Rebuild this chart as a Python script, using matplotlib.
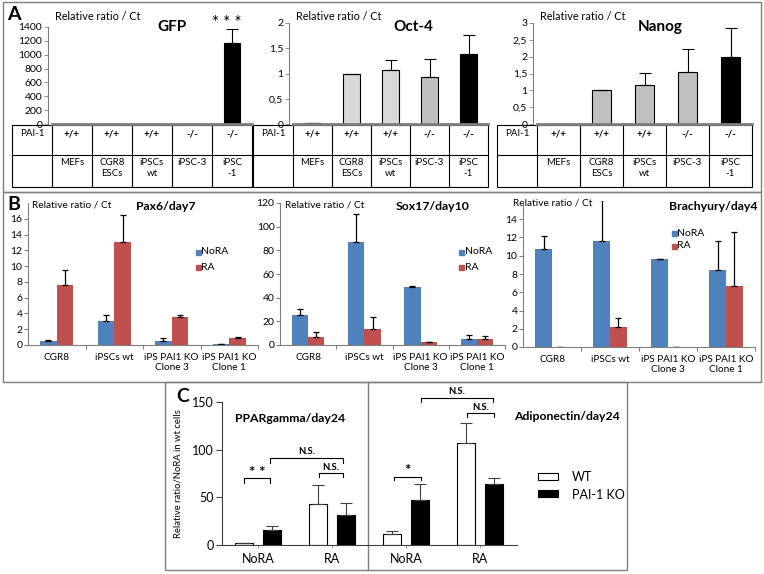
import matplotlib.pyplot as plt
from matplotlib.lines import Line2D
from matplotlib.patches import Rectangle

plt.rcParams['font.family'] = ['Lato', 'DejaVu Sans']

# ---- data ----
# panel A
a_cells = ['MEFs', 'CGR8\nESCs', 'iPSCs\nwt', 'iPSC-3', 'iPSC\n-1']
a_pai = ['+/+', '+/+', '+/+', '-/-', '-/-']
gfp_val = [5, 5, 5, 5, 1170]
gfp_err = [0, 0, 0, 0, 200]
oct4_val = [0.02, 1.0, 1.07, 0.94, 1.38]
oct4_err = [0, 0, 0.19, 0.35, 0.38]
nanog_val = [0, 1.0, 1.15, 1.55, 2.0]
nanog_err = [0, 0, 0.37, 0.68, 0.85]
gfp_ticks = [0, 200, 400, 600, 800, 1000, 1200, 1400]
oct4_ticks = [0, 0.5, 1, 1.5, 2]
nanog_ticks = [0, 0.5, 1, 1.5, 2, 2.5, 3]

# panel B
b_cells = ['CGR8', 'iPSCs wt', 'iPS PAI1 KO\nClone 3', 'iPS PAI1 KO\nClone 1']
pax6_nora = [0.5, 3.07, 0.5, 0.08]
pax6_nora_err = [0.13, 0.73, 0.34, 0.02]
pax6_ra = [7.66, 13.05, 3.54, 0.93]
pax6_ra_err = [1.9, 3.45, 0.21, 0.12]
sox17_nora = [25.4, 87, 48.9, 5.1]
sox17_nora_err = [4.8, 23.7, 0.8, 3.4]
sox17_ra = [6.5, 13.6, 2.8, 4.8]
sox17_ra_err = [4.8, 10.4, 0, 3.1]
brachy_nora = [10.77, 11.6, 9.6, 8.42]
brachy_nora_err = [1.43, 4.5, 0.07, 3.2]
brachy_ra = [0, 2.23, 0, 6.67]
brachy_ra_err = [0, 0.96, 0, 5.9]

# panel C
c_groups = ['NoRA', 'RA', 'NoRA', 'RA']
c_wt = [2, 43, 11.5, 107]
c_wt_err = [0, 20, 3.5, 21]
c_ko = [15.5, 31.5, 47, 63.5]
c_ko_err = [4.2, 12.5, 17.5, 7.3]

W, H = 764, 574
fig = plt.figure(figsize=(W / 100, H / 100), dpi=100)


def box(x0, y0, x1, y1):
    return [x0 / W, 1 - y1 / H, (x1 - x0) / W, (y1 - y0) / H]


ov = fig.add_axes([0, 0, 1, 1])
ov.set_xlim(0, W)
ov.set_ylim(H, 0)
ov.axis('off')

GRAY = '#7f7f7f'
BLUE = '#4f81bd'
RED = '#c0504d'


def frame(x0, y0, x1, y1, color=GRAY, lw=1.0):
    ov.add_patch(Rectangle((x0, y0), x1 - x0, y1 - y0, fill=False,
                           edgecolor=color, lw=lw))


def hline(x0, x1, y, color='black', lw=0.8):
    ov.add_line(Line2D([x0, x1], [y, y], color=color, lw=lw))


def vline(x, y0, y1, color='black', lw=0.8):
    ov.add_line(Line2D([x, x], [y0, y1], color=color, lw=lw))


# outer boxes
frame(3, 2, 761, 192)
frame(3, 192, 761, 382)
frame(165, 382, 627, 570)
vline(368, 382, 570, color=GRAY, lw=1.0)

# ---------------- panel A ----------------
ov.text(7, 14, 'A', fontsize=14, fontweight='bold', va='center')

a_panels = [
    (12, 252, 27, 'GFP', gfp_val, gfp_err, gfp_ticks, [str(t) for t in gfp_ticks],
     ['#d9d9d9', '#d9d9d9', '#d9d9d9', '#bfbfbf', 'black'], 172),
    (253, 488, 23, 'Oct-4', oct4_val, oct4_err, oct4_ticks,
     ['0', '0,5', '1', '1,5', '2'],
     ['#d9d9d9', '#d9d9d9', '#d9d9d9', '#bfbfbf', 'black'], 413),
    (497, 752, 23, 'Nanog', nanog_val, nanog_err, nanog_ticks,
     ['0', '0,5', '1', '1,5', '2', '2,5', '3'],
     ['#c0c0c0', '#c0c0c0', '#c0c0c0', '#c0c0c0', 'black'], 660),
]

for tx0, tx1, top, title, vals, errs, ticks, tlabels, cols, title_x in a_panels:
    c0 = tx0 + 40
    ax = fig.add_axes(box(c0, top, tx1, 124))
    x = range(len(vals))
    ax.bar(x, vals, width=0.42, color=cols, edgecolor='black', linewidth=0.8,
           yerr=[[0] * len(vals), errs], capsize=4,
           error_kw=dict(elinewidth=0.8, capthick=0.8, ecolor='black'))
    ax.set_xlim(-0.5, len(vals) - 0.5)
    ax.set_ylim(0, ticks[-1])
    ax.set_yticks(ticks)
    ax.set_yticklabels(tlabels)
    ax.set_xticks([])
    ax.tick_params(axis='y', direction='out', length=3, width=0.6,
                   labelsize=7.5, pad=1, color=GRAY)
    ax.patch.set_alpha(0)
    for s in ['top', 'right']:
        ax.spines[s].set_visible(False)
    ax.spines['left'].set_color(GRAY)
    ax.spines['left'].set_linewidth(0.8)
    ax.spines['left'].set_position(('outward', 3))
    ax.spines['bottom'].set_color(GRAY)
    ax.spines['bottom'].set_linewidth(2)
    ov.text(c0 + 3, 17, 'Relative ratio / Ct', fontsize=7.8, va='center')
    ov.text(title_x, 27, title, fontsize=11, fontweight='bold',
            ha='center', va='center')

    # table
    frame(tx0, 125, tx1, 187, color='black', lw=0.8)
    hline(tx0, tx1, 155)
    cw = (tx1 - c0) / len(vals)
    vline(c0, 125, 187)
    for i in range(1, len(vals)):
        vline(c0 + i * cw, 125, 187)
    ov.text((tx0 + c0) / 2, 134, 'PAI-1', fontsize=7, ha='center', va='center')
    for i in range(len(vals)):
        cx = c0 + (i + 0.5) * cw
        ov.text(cx, 134, a_pai[i], fontsize=7, fontweight='bold',
                ha='center', va='center')
        ov.text(cx, 158, a_cells[i], fontsize=7, ha='center', va='top',
                linespacing=1.3)

    if title == 'GFP':
        ov.text(227, 23, '* * *', fontsize=12, ha='center', va='center')

# ---------------- panel B ----------------
ov.text(7, 204, 'B', fontsize=14, fontweight='bold', va='center')

b_panels = [
    (28, 258, 203, 345, 18, list(range(0, 17, 2)), 'Pax6/day7', 166, 'center',
     pax6_nora, pax6_nora_err, pax6_ra, pax6_ra_err, 32, (196, 252)),
    (280, 505, 203, 345, 120, list(range(0, 121, 20)), 'Sox17/day10', 433, 'center',
     sox17_nora, sox17_nora_err, sox17_ra, sox17_ra_err, 285, (459, 252)),
    (523, 755, 201, 347, 16, list(range(0, 15, 2)), 'Brachyury/day4', 758, 'right',
     brachy_nora, brachy_nora_err, brachy_ra, brachy_ra_err, 513, (672, 233)),
]

bw = 0.29
for (x0, x1, y0, y1, ymax, ticks, title, title_x, title_ha,
     nora, nora_err, ra, ra_err, rr_x, leg) in b_panels:
    ax = fig.add_axes(box(x0, y0, x1, y1))
    x = list(range(len(nora)))
    ek = dict(elinewidth=0.9, capthick=0.9, ecolor='black')
    ax.bar([i - bw / 2 for i in x], nora, width=bw, color=BLUE,
           yerr=[[0] * 4, nora_err], capsize=2.5, error_kw=ek)
    ax.bar([i + bw / 2 for i in x], ra, width=bw, color=RED,
           yerr=[[0] * 4, ra_err], capsize=2.5, error_kw=ek)
    ax.set_xlim(-0.5, 3.5)
    ax.set_ylim(0, ymax)
    ax.set_yticks(ticks)
    ax.set_xticks(x)
    ax.set_xticklabels(b_cells, fontsize=7.2, linespacing=1.1)
    ax.set_xticks([0.5, 1.5, 2.5, 3.5], minor=True)
    ax.tick_params(axis='x', which='major', length=0, pad=6)
    ax.tick_params(axis='x', which='minor', length=3, width=0.8, color=GRAY)
    ax.tick_params(axis='y', direction='out', length=3, width=0.8,
                   labelsize=7.5, pad=1, color=GRAY)
    ax.patch.set_alpha(0)
    for s in ['top', 'right']:
        ax.spines[s].set_visible(False)
    for s in ['left', 'bottom']:
        ax.spines[s].set_color(GRAY)
        ax.spines[s].set_linewidth(0.8)
    ov.text(rr_x, y0 + 2, 'Relative ratio / Ct', fontsize=7.3, va='center',
            zorder=5, bbox=dict(facecolor='white', edgecolor='none', pad=0.5))
    ov.text(title_x, 206, title, fontsize=8.8, fontweight='bold',
            ha=title_ha, va='center')
    lx, ly = leg
    for j, (lab, col) in enumerate([('NoRA', BLUE), ('RA', RED)]):
        yy = ly + j * (15 if title != 'Brachyury/day4' else 13)
        ov.add_patch(Rectangle((lx, yy - 2.5), 5, 5, color=col))
        ov.text(lx + 5.5, yy, lab, fontsize=7.5, va='center')

# ---------------- panel C ----------------
ov.text(176, 397, 'C', fontsize=14, fontweight='bold', va='center')

axc = fig.add_axes(box(222, 402, 517, 545))
xc = list(range(len(c_groups)))
cw_ = 0.25
off = 0.19
ekc = dict(elinewidth=0.8, capthick=0.8, ecolor='#404040')
axc.bar([i - off for i in xc], c_wt, width=cw_, color='white', edgecolor='black',
        linewidth=0.8, yerr=[[0] * 4, c_wt_err], capsize=4, error_kw=ekc)
axc.bar([i + off for i in xc], c_ko, width=cw_, color='black', edgecolor='black',
        linewidth=0.8, yerr=[[0] * 4, c_ko_err], capsize=4, error_kw=ekc)
axc.set_xlim(-0.485, 3.5)
axc.set_ylim(0, 150)
axc.set_yticks([0, 50, 100, 150])
axc.set_xticks(xc)
axc.set_xticklabels(c_groups, fontsize=9)
axc.tick_params(axis='y', direction='out', length=4, width=0.8,
                labelsize=9, pad=2, color='#404040')
axc.tick_params(axis='x', direction='out', length=2.5, width=0.6,
                color=GRAY, pad=3)
axc.patch.set_alpha(0)
for s in ['top', 'right']:
    axc.spines[s].set_visible(False)
for s in ['left', 'bottom']:
    axc.spines[s].set_color('#404040')
    axc.spines[s].set_linewidth(0.8)
axc.set_ylabel('Relative ratio/NoRA in wt cells', fontsize=6.8, labelpad=7)

ov.text(290, 418, 'PPARgamma/day24', fontsize=8.8, fontweight='bold',
        ha='center', va='center')
ov.text(567, 416, 'Adiponectin/day24', fontsize=8.8, fontweight='bold',
        ha='center', va='center')


def bracket(x0, x1, y, leg0, leg1, label, ty, fs):
    ov.add_line(Line2D([x0, x0, x1, x1], [leg0, y, y, leg1],
                       color='black', lw=0.8))
    ov.text((x0 + x1) / 2, ty, label, fontsize=fs, fontweight='bold',
            ha='center', va='center')


bracket(244, 270, 478, 483, 483, '* *', 473, 11)
bracket(270, 343, 458, 463, 463, 'N.S.', 452, 6.8)
bracket(319, 343, 473, 477, 477, 'N.S.', 467, 6.8)
bracket(394, 421, 477, 480, 480, '*', 471, 11)
bracket(421, 493, 398, 402, 402, 'N.S.', 392, 6.8)
bracket(467, 494, 413, 417, 417, 'N.S.', 407, 6.8)

# legend C
ov.add_patch(Rectangle((538, 473), 20, 7, facecolor='white', edgecolor='black', lw=0.8))
ov.text(572, 477, 'WT', fontsize=9, va='center')
ov.add_patch(Rectangle((538, 490), 20, 7, facecolor='black', edgecolor='black', lw=0.8))
ov.text(572, 495, 'PAI-1 KO', fontsize=9, va='center')

fig.savefig('out.png', dpi=100)
